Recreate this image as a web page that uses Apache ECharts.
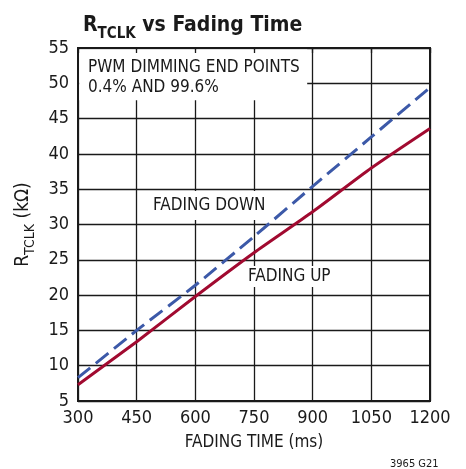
<!DOCTYPE html>
<html><head><meta charset="utf-8">
<script src="https://cdn.jsdelivr.net/npm/echarts@6/dist/echarts.min.js"></script>
<style>html,body{margin:0;padding:0;background:#fff}#c{width:466px;height:469px}</style>
</head><body><div id="c"></div>
<script>
const fadingTime = [300, 450, 600, 750, 900, 1050, 1200];
const fadingDown = [8.3, 15.0, 21.4, 28.3, 35.4, 42.4, 49.4];
const fadingUp = [7.3, 13.4, 19.8, 26.0, 31.8, 38.0, 43.6];
const xTicks = [300, 450, 600, 750, 900, 1050, 1200];
const yTicks = [5, 10, 15, 20, 25, 30, 35, 40, 45, 50, 55];
const FONT = '"DejaVu Sans Condensed", "Liberation Sans", sans-serif';

const chart = echarts.init(document.getElementById('c'));
chart.setOption({
  animation: false,
  backgroundColor: '#fff',
  title: {
    text: '{r|R}{s|TCLK}{r| vs Fading Time}',
    left: 78, top: 5,
    textStyle: {
      rich: {
        r: {fontFamily: FONT, fontWeight: 'bold', fontSize: 21, color: '#1a1a1a', verticalAlign: 'bottom', lineHeight: 26},
        s: {fontFamily: FONT, fontWeight: 'bold', fontSize: 15, color: '#1a1a1a', verticalAlign: 'bottom', lineHeight: 20, padding: [0,0,-6,0]}
      }
    }
  },
  grid: {left: 78, right: 36, top: 48, bottom: 68, show: true, borderColor: '#1a1a1a', borderWidth: 2, containLabel: false},
  xAxis: [{
    type: 'value', min: 300, max: 1200, interval: 150,
    name: 'FADING TIME (ms)', nameLocation: 'middle', nameGap: 33,
    nameTextStyle: {fontFamily: FONT, fontSize: 17, color: '#1a1a1a'},
    axisLine: {show: true, lineStyle: {color: '#1a1a1a', width: 2}},
    axisTick: {show: false},
    axisLabel: {fontFamily: FONT, fontSize: 18, color: '#1a1a1a', margin: 8, formatter: v => String(v)},
    splitLine: {show: true, lineStyle: {color: '#1a1a1a', width: 1.3}}
  }, {
    type: 'value', min: 300, max: 1200, interval: 150, position: 'top', z: 10,
    axisLine: {show: false}, axisLabel: {show: false},
    axisTick: {show: true, inside: true, length: 5, lineStyle: {color: '#1a1a1a', width: 1.3}},
    splitLine: {show: false}
  }],
  yAxis: {
    type: 'value', min: 5, max: 55, interval: 5,
    name: '{r|R}{s|TCLK}{r| (kΩ)}', nameLocation: 'middle', nameGap: 44, nameRotate: 90,
    nameTextStyle: {
      rich: {
        r: {fontFamily: FONT, fontSize: 19, color: '#1a1a1a', verticalAlign: 'bottom', lineHeight: 22},
        s: {fontFamily: FONT, fontSize: 14, color: '#1a1a1a', verticalAlign: 'bottom', lineHeight: 18, padding: [0,0,-5,0]}
      }
    },
    axisLine: {show: true, lineStyle: {color: '#1a1a1a', width: 2}},
    axisTick: {show: false},
    axisLabel: {fontFamily: FONT, fontSize: 18, color: '#1a1a1a', margin: 9},
    splitLine: {show: true, lineStyle: {color: '#1a1a1a', width: 1.3}}
  },
  series: [
    {
      type: 'line', name: 'FADING DOWN', symbol: 'none', smooth: 0.2,
      data: fadingTime.map((t, i) => [t, fadingDown[i]]),
      lineStyle: {color: '#3c59a8', width: 3, type: [16, 7]},
      z: 3,
      markArea: {
        silent: true,
        itemStyle: {color: '#fff'},
        data: [[{coord: [303, 47.6]}, {coord: [886, 54.8]}]]
      }
    },
    {
      type: 'line', name: 'FADING UP', symbol: 'none', smooth: 0.2,
      data: fadingTime.map((t, i) => [t, fadingUp[i]]),
      lineStyle: {color: '#a10a30', width: 3},
      z: 3
    }
  ],
  graphic: [
    {type: 'text', z: 100, left: 88, top: 58, style: {text: 'PWM DIMMING END POINTS\n0.4% AND 99.6%', font: '17px ' + FONT, fill: '#1a1a1a', lineHeight: 20}},
    {type: 'text', z: 100, left: 149, top: 191, style: {text: 'FADING DOWN', font: '17px ' + FONT, fill: '#1a1a1a', backgroundColor: '#fff', padding: [6, 4]}},
    {type: 'text', z: 100, left: 245, top: 266, style: {text: 'FADING UP', font: '17px ' + FONT, fill: '#1a1a1a', backgroundColor: '#fff', padding: [2, 3]}},
    {type: 'text', z: 100, left: 390, top: 459, style: {text: '3965 G21', font: '11px ' + FONT, fill: '#1a1a1a'}}
  ]
});
</script></body></html>
